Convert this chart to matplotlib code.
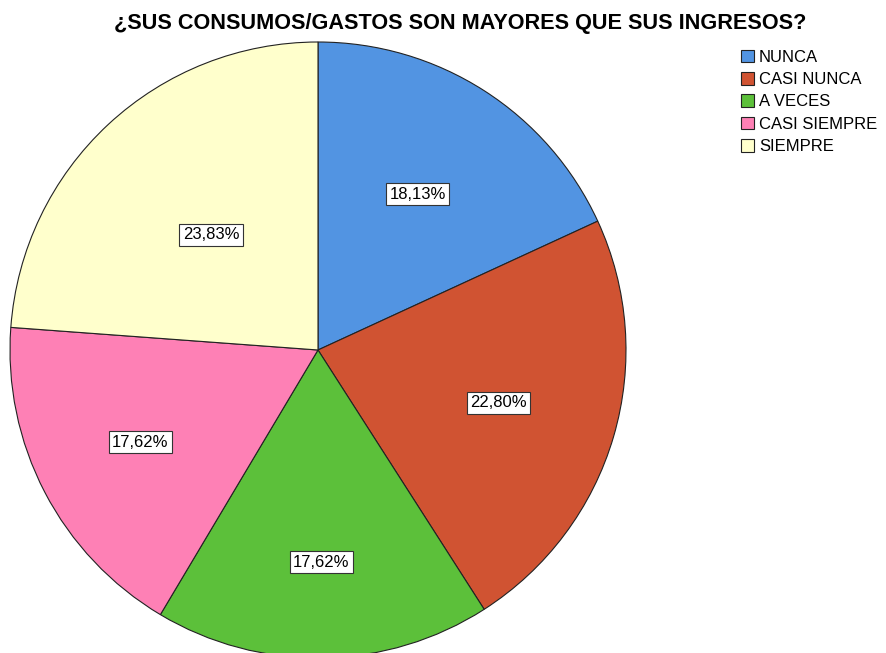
import matplotlib.pyplot as plt
from matplotlib.patches import Patch

plt.rcParams['font.family'] = ['Liberation Sans', 'DejaVu Sans']

categories = ['NUNCA', 'CASI NUNCA', 'A VECES', 'CASI SIEMPRE', 'SIEMPRE']
values = [18.13, 22.80, 17.62, 17.62, 23.83]
colors = ['#5294e2', '#d05332', '#5cc03a', '#fe80b5', '#ffffcc']
title = '¿SUS CONSUMOS/GASTOS SON MAYORES QUE SUS INGRESOS?'
# radial placement of each percentage label (fraction of radius)
label_dist = [0.60, 0.61, 0.69, 0.65, 0.51]

W, H = 886, 653
fig = plt.figure(figsize=(W / 100, H / 100), dpi=100)

# pie axes, square, slightly cut at the bottom like the original
cx, cy, r = 318, 350, 308
ax = fig.add_axes([(cx - r) / W, (H - cy - r) / H, 2 * r / W, 2 * r / H])
wedges, texts, autotexts = ax.pie(
    values, colors=colors, startangle=90, counterclock=False,
    radius=1, autopct=lambda p: f'{p:.2f}%'.replace('.', ','),
    pctdistance=0.6,
    wedgeprops=dict(edgecolor='#222222', linewidth=0.8),
    textprops=dict(fontsize=12, color='black'))
for t, d in zip(autotexts, label_dist):
    x, y = t.get_position()
    t.set_position((x / 0.6 * d, y / 0.6 * d))
    t.set_bbox(dict(facecolor='white', edgecolor='#333333', linewidth=0.8, pad=2.5))
ax.set_xlim(-1, 1)
ax.set_ylim(-1, 1)
ax.set_aspect('equal')
ax.axis('off')

fig.text(460 / W, 1 - 23 / H, title, ha='center', va='center',
         fontsize=15.6, fontweight='bold')

handles = [Patch(facecolor=c, edgecolor='#222222', linewidth=0.8) for c in colors]
fig.legend(handles, categories, loc='upper left',
           bbox_to_anchor=(729 / W, 1 - 38 / H), frameon=False,
           fontsize=12, handlelength=0.8, handleheight=0.8,
           handletextpad=0.3, labelspacing=0.43, borderpad=0.2)

fig.savefig('out.png', dpi=100)
